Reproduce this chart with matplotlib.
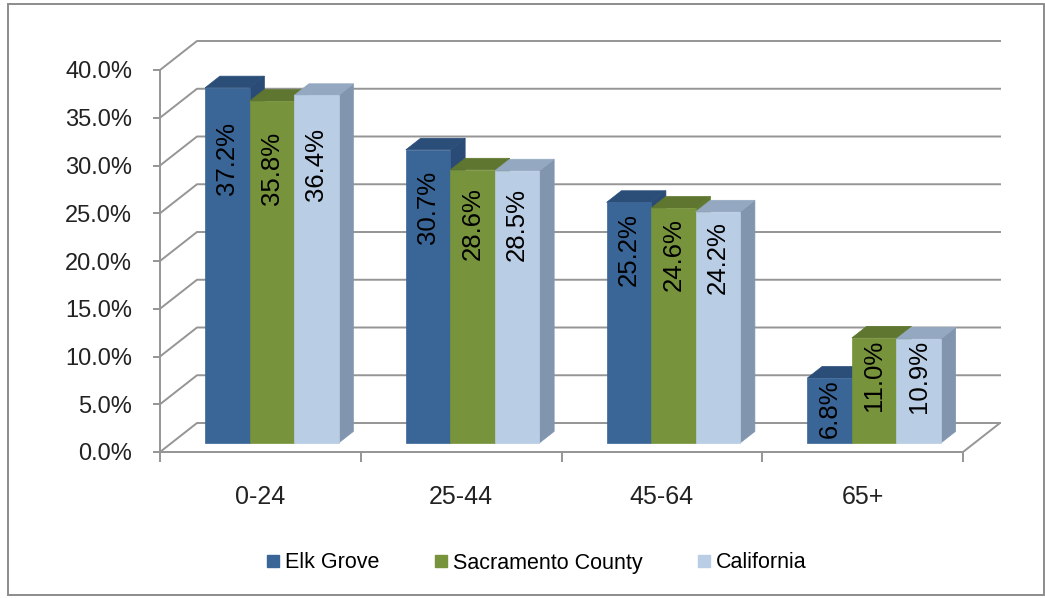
import matplotlib.pyplot as plt
import numpy as np
from matplotlib.patches import Polygon, Rectangle
from matplotlib.lines import Line2D

plt.rcParams['font.family'] = ['Liberation Sans', 'DejaVu Sans']

# datos
categorias = ['0-24', '25-44', '45-64', '65+']
series = ['Elk Grove', 'Sacramento County', 'California']
elk_grove = [37.2, 30.7, 25.2, 6.8]
sacramento = [35.8, 28.6, 24.6, 11.0]
california = [36.4, 28.5, 24.2, 10.9]
valores_eje = [0, 5, 10, 15, 20, 25, 30, 35, 40]

# colores: frente, tapa, lado
colores = [
    ('#3A6597', '#2B4E79', '#294B76'),
    ('#77933C', '#5E762F', '#62792F'),
    ('#B9CDE5', '#94A8C1', '#8195AF'),
]
gris = '#959595'

W, H = 1045, 598
fig = plt.figure(figsize=(W / 100, H / 100), dpi=100)
fig.patches.append(Rectangle((8 / W, 3 / H), 1036 / W, 591 / H, transform=fig.transFigure,
                             fill=False, edgecolor='#8C8C8C', lw=1.4))

# ejes: frente en x=160..963 px, 0% en y=452 px
ax = fig.add_axes([160 / W, 146 / H, 840 / W, 411 / H])
px_y = 9.55       # px por punto porcentual
px_x = 200.75     # px por categoría
ax.set_ylim(0, 411 / px_y)
ax.set_xlim(-0.5, -0.5 + 840 / px_x)

# profundidad del "3D"
dxw, dyw = 37 / px_x, 29 / px_y
zf, zb = 0.31, 0.71
ancho = 44.5 / px_x


def proy(x, y, z):
    return (x + z * dxw, y + z * dyw)


# paredes y rejilla
x_izq, x_der = -0.5, 3.5
for v in valores_eje:
    ax.plot(*zip(proy(x_izq, v, 0), proy(x_izq, v, 1), proy(x_der, v, 1)),
            color=gris, lw=1.4, zorder=1, clip_on=False)
ax.plot([x_izq, x_izq], [0, valores_eje[-1]], color=gris, lw=1.4, zorder=1, clip_on=False)
ax.plot(*zip(proy(x_der, 0, 0), proy(x_der, 0, 1)), color=gris, lw=1.4, zorder=1)

# barras
datos = [elk_grove, sacramento, california]
for i in range(len(categorias)):
    for j, vals in enumerate(datos):
        v = vals[i]
        x0 = i + (j - 1.5) * ancho
        x1 = x0 + ancho
        fr, tp, ld = colores[j]
        lado = [proy(x1, 0, zf), proy(x1, 0, zb), proy(x1, v, zb), proy(x1, v, zf)]
        tapa = [proy(x0, v, zf), proy(x1, v, zf), proy(x1, v, zb), proy(x0, v, zb)]
        ax.add_patch(Polygon(lado, closed=True, fc=ld, ec=ld, lw=0.5, zorder=3))
        ax.add_patch(Polygon(tapa, closed=True, fc=tp, ec=tp, lw=0.5, zorder=3))
        ax.bar(x0 + zf * dxw, v, width=ancho, bottom=zf * dyw, align='edge',
               color=fr, edgecolor=fr, lw=0.5, zorder=3)
        ytxt = zf * dyw + min(0.8 * v + 3.9, v - 0.15)
        ax.text(x0 + ancho / 2 + zf * dxw, ytxt, f'{v:.1f}%', rotation=90,
                ha='center', va='top', fontsize=18.5, color='black', zorder=5)

# ejes
for s in ax.spines.values():
    s.set_visible(False)
ax.spines['bottom'].set_visible(True)
ax.spines['bottom'].set_bounds(-0.5, 3.5)
ax.spines['bottom'].set_color(gris)
ax.spines['bottom'].set_linewidth(1.4)

ax.set_yticks(valores_eje)
ax.set_yticklabels([f'{v:.1f}%' for v in valores_eje])
ax.tick_params(axis='y', length=5, width=1.4, color=gris, pad=15,
               labelsize=17, labelcolor='#222222')

ax.set_xticks(np.arange(-0.5, 4, 1))
ax.set_xticklabels([])
ax.set_xticks(np.arange(len(categorias)), minor=True)
ax.set_xticklabels(categorias, minor=True)
ax.tick_params(axis='x', which='major', length=7, width=1.4, color=gris)
ax.tick_params(axis='x', which='minor', length=0, pad=24,
               labelsize=18, labelcolor='#222222')
ax.patch.set_alpha(0)

# leyenda
handles = [Line2D([], [], marker='s', ls='', markersize=8, color=c[0]) for c in colores]
fig.legend(handles, series, loc='center', bbox_to_anchor=(535 / W, 1 - 563 / H),
           ncol=3, frameon=False, fontsize=15.5, handletextpad=0.1,
           columnspacing=2.4, handlelength=0.9)

fig.savefig('out.png', dpi=100)
